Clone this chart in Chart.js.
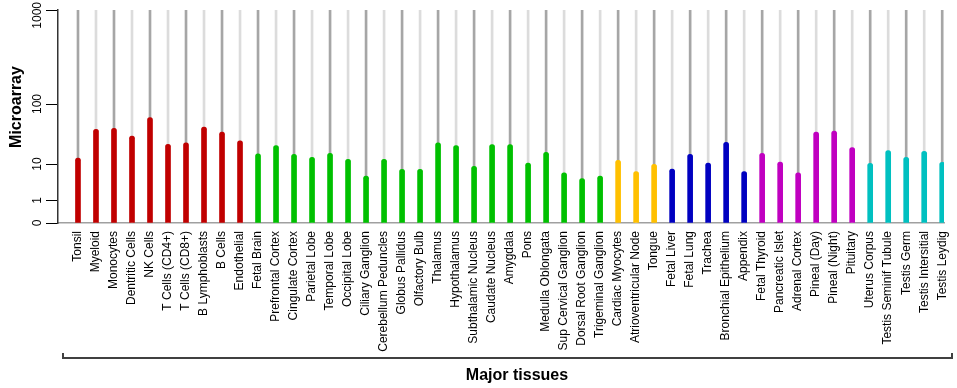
<!DOCTYPE html>
<html>
<head>
<meta charset="utf-8">
<script src="https://cdn.jsdelivr.net/npm/chart.js@4.4.1/dist/chart.umd.min.js"></script>
<style>
  html, body { margin: 0; padding: 0; background: #fff; }
  #wrap { width: 957px; height: 388px; position: relative; }
</style>
</head>
<body>
<div id="wrap"><canvas id="chart"></canvas></div>
<script>
// Tissue names, in plotting order
const tissues = [
    'Tonsil', 'Myeloid', 'Monocytes', 'Dentritic Cells', 'NK Cells', 'T Cells (CD4+)', 'T Cells (CD8+)',
    'B Lymphoblasts', 'B Cells', 'Endothelial',
    'Fetal Brain', 'Prefrontal Cortex', 'Cingulate Cortex', 'Parietal Lobe', 'Temporal Lobe', 'Occipital Lobe',
    'Ciliary Ganglion', 'Cerebellum Peduncles', 'Globus Pallidus', 'Olfactory Bulb', 'Thalamus', 'Hypothalamus',
    'Subthalamic Nucleus', 'Caudate Nucleus', 'Amygdala', 'Pons', 'Medulla Oblongata', 'Sup Cervical Ganglion',
    'Dorsal Root Ganglion', 'Trigeminal Ganglion',
    'Cardiac Myocytes', 'Atrioventricular Node', 'Tongue',
    'Fetal Liver', 'Fetal Lung', 'Trachea', 'Bronchial Epithelium', 'Appendix',
    'Fetal Thyroid', 'Pancreatic Islet', 'Adrenal Cortex', 'Pineal (Day)', 'Pineal (Night)', 'Pituitary',
    'Uterus Corpus', 'Testis Seminif Tubule', 'Testis Germ', 'Testis Intersitial', 'Testis Leydig'
];

// Microarray expression values
const expression = [
    12.5, 37.9, 39.4, 29.3, 59.1, 21.3, 22.6, 41.4, 34.1, 24.4,
    14.8, 20.2, 14.5, 12.9, 15.1, 12.0, 4.7, 12.0, 7.2, 7.2,
    22.6, 20.2, 8.7, 21.0, 21.0, 10.4, 15.7, 5.7, 4.0, 4.7,
    11.5, 6.2, 9.8,
    7.3, 14.5, 10.4, 23.0, 6.2,
    15.1, 10.8, 5.7, 34.1, 35.5, 18.7,
    10.3, 16.7, 12.9, 16.3, 10.7
];

// Tissue group of each bar
const groups = [
    0, 0, 0, 0, 0, 0, 0, 0, 0, 0,
    1, 1, 1, 1, 1, 1, 1, 1, 1, 1, 1, 1, 1, 1, 1, 1, 1, 1, 1, 1,
    2, 2, 2,
    3, 3, 3, 3, 3,
    4, 4, 4, 4, 4, 4,
    5, 5, 5, 5, 5
];
const groupColors = ['#c00000', '#00c000', '#ffc000', '#0000c0', '#c000c0', '#00c0c0'];

// y axis ticks and how far up (in px of the original plot) each one sits
const yTicks = [0, 1, 10, 100, 1000];
const yTickSpan = [0, 22.5, 59, 119, 213];

function fwd(v) {
    if (v <= 0) return 0;
    for (let i = 0; i < yTicks.length - 1; i++) {
        const a = yTicks[i], b = yTicks[i + 1];
        if (v <= b || i === yTicks.length - 2) {
            let t = a === 0 ? v / b : Math.log10(v / a) / Math.log10(b / a);
            return yTickSpan[i] + t * (yTickSpan[i + 1] - yTickSpan[i]);
        }
    }
}
function inv(u) {
    for (let i = 0; i < yTicks.length - 1; i++) {
        if (u <= yTickSpan[i + 1] || i === yTicks.length - 2) {
            const t = (u - yTickSpan[i]) / (yTickSpan[i + 1] - yTickSpan[i]);
            const a = yTicks[i], b = yTicks[i + 1];
            return a === 0 ? t * b : a * Math.pow(b / a, t);
        }
    }
}

class MicroScale extends Chart.LinearScale {
    getPixelForValue(v) { return this.getPixelForDecimal(fwd(v) / fwd(this.max)); }
    getValueForPixel(p) { return inv(this.getDecimalForPixel(p) * fwd(this.max)); }
    buildTicks() { return yTicks.map(v => ({ value: v })); }
}
MicroScale.id = 'micro';
MicroScale.defaults = Chart.LinearScale.defaults;
Chart.register(MicroScale);

const decor = {
    id: 'decor',
    afterDraw(chart) {
        const ctx = chart.ctx;
        const y = chart.scales.y;
        ctx.save();
        ctx.fillStyle = '#000';
        ctx.textAlign = 'center';
        ctx.textBaseline = 'middle';

        // rotated y tick labels
        ctx.font = '12px "Liberation Sans", Arial, sans-serif';
        yTicks.forEach(v => {
            const label = String(v);
            const half = ctx.measureText(label).width / 2;
            const py = Math.max(y.getPixelForValue(v), half + 2);
            ctx.save();
            ctx.translate(38, py);
            ctx.rotate(-Math.PI / 2);
            ctx.fillText(label, 0, 0);
            ctx.restore();
        });

        // axis titles
        ctx.font = 'bold 16px "Liberation Sans", Arial, sans-serif';
        ctx.save();
        ctx.translate(17, 107);
        ctx.rotate(-Math.PI / 2);
        ctx.fillText('Microarray', 0, 0);
        ctx.restore();
        ctx.fillText('Major tissues', 517, 376);

        // bracket under the labels
        ctx.strokeStyle = '#404040';
        ctx.lineWidth = 2;
        ctx.beginPath();
        ctx.moveTo(63, 353);
        ctx.lineTo(63, 358);
        ctx.lineTo(952, 358);
        ctx.lineTo(952, 353);
        ctx.stroke();
        ctx.restore();
    }
};

new Chart(document.getElementById('chart'), {
    type: 'bar',
    data: {
        datasets: [
            {
                data: expression.map((v, i) => ({ x: i, y: v })),
                backgroundColor: groups.map(g => groupColors[g]),
                barThickness: 5,
                borderRadius: { topLeft: 3, topRight: 3 },
                borderSkipped: 'bottom',
                grouped: false,
                order: 1
            },
            {
                data: tissues.map((t, i) => ({ x: i, y: 1000 })),
                backgroundColor: tissues.map((t, i) => i % 2 === 0 ? '#a6a6a6' : '#dcdcdc'),
                barThickness: 2,
                grouped: false,
                order: 2
            }
        ]
    },
    options: {
        responsive: true,
        maintainAspectRatio: false,
        devicePixelRatio: 1,
        animation: false,
        layout: { padding: { top: 10, right: 13, left: 0, bottom: 0 } },
        plugins: { legend: { display: false }, tooltip: { enabled: false } },
        scales: {
            x: {
                type: 'linear',
                offset: false,
                min: -1.11,
                max: 48.1,
                afterBuildTicks: s => { s.ticks = tissues.map((t, i) => ({ value: i })); },
                afterFit: s => { s.height = 165; s.paddingLeft = 0; s.paddingRight = 0; },
                ticks: {
                    autoSkip: false,
                    minRotation: 90,
                    maxRotation: 90,
                    padding: 8,
                    color: '#000',
                    font: { family: '"Liberation Sans", Arial, sans-serif', size: 12 },
                    callback: v => tissues[v]
                },
                grid: { display: true, drawOnChartArea: false, drawTicks: false, offset: false },
                border: { color: '#a0a0a0', width: 1.5 }
            },
            y: {
                type: 'micro',
                min: 0,
                max: 1000,
                afterFit: s => { s.width = 58; s.paddingTop = 0; s.paddingBottom = 0; },
                ticks: { display: false },
                grid: { drawOnChartArea: false, drawTicks: true, tickLength: 12, color: '#000', lineWidth: 1 },
                border: { color: '#333', width: 1.5 }
            }
        }
    },
    plugins: [decor]
});
</script>
</body>
</html>
